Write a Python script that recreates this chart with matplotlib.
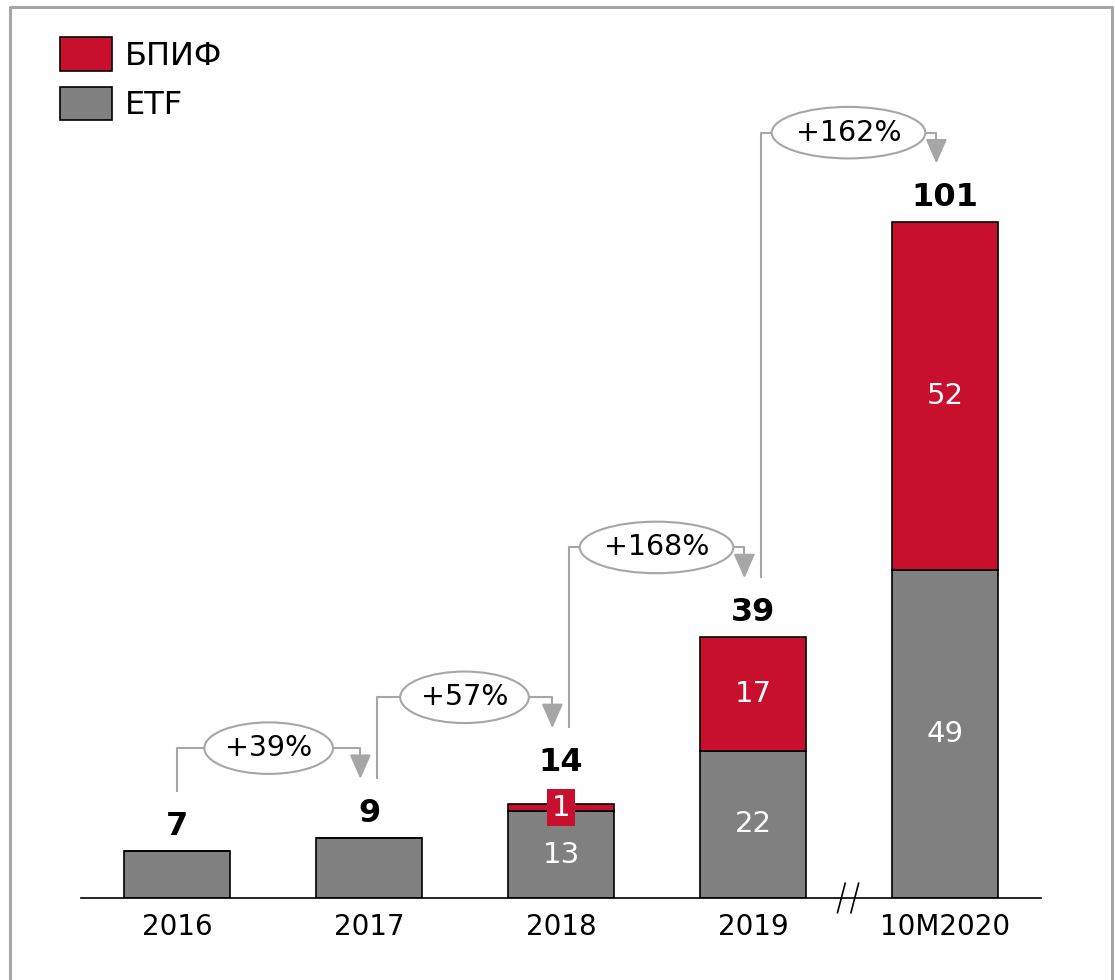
import numpy as np
import matplotlib
matplotlib.use("Agg")
from matplotlib import pyplot as plt
from matplotlib.patches import Ellipse, Patch
from matplotlib.lines import Line2D

# Chart data
years = ["2016", "2017", "2018", "2019", "10M2020"]
etf = [7, 9, 13, 22, 49]
bpif = [0, 0, 1, 17, 52]
totals = [7, 9, 14, 39, 101]
growth = ["+39%", "+57%", "+168%", "+162%"]

RED = "#c8102e"
GREY = "#808080"
LINE = "#a6a6a6"

plt.rcParams["font.family"] = ["DejaVu Sans"]

W, H = 1115, 980
fig = plt.figure(figsize=[W / 100.0, H / 100.0], dpi=100)
fig.patch.set_facecolor("white")

# axes placed in pixel terms: baseline at y=898, bar pitch 192 px
ymax = 130
ax = fig.add_axes([81.0 / W, 82.0 / H, 960.0 / W, ymax * 6.69 / H])
ax.set_xlim(-0.5, 4.5)
ax.set_ylim(0, ymax)
for s in ["top", "left", "right"]:
    ax.spines[s].set_visible(False)
ax.spines["bottom"].set_linewidth(1.2)
ax.set_yticks([])

x = np.arange(len(years))
bw = 0.55
ax.bar(x, etf, bw, color=GREY, edgecolor="black", linewidth=1.2, zorder=2)
ax.bar(x, bpif, bw, bottom=etf, color=RED, edgecolor="black", linewidth=1.2, zorder=2)

ax.set_xticks(x)
ax.set_xticklabels(years, fontsize=20)
ax.tick_params(axis="x", length=0, pad=11)

# segment labels
for i in range(len(years)):
    if etf[i] > 0 and bpif[i] > 0:
        ax.text(x[i], etf[i] / 2.0, str(etf[i]), ha="center", va="center",
                color="white", fontsize=21, zorder=4)
    if bpif[i] >= 3:
        ax.text(x[i], etf[i] + bpif[i] / 2.0, str(bpif[i]), ha="center", va="center",
                color="white", fontsize=21, zorder=4)
    elif bpif[i] > 0:
        ax.text(x[i], etf[i] + bpif[i] / 2.0, str(bpif[i]), ha="center", va="center",
                color="white", fontsize=21, zorder=4,
                bbox=dict(boxstyle="square,pad=0.15", fc=RED, ec="none"))

# totals
label_y = []
for i in range(len(years)):
    off = 3.7
    if 0 < bpif[i] < 3:
        off = 6.3
    label_y.append(totals[i] + off)
    ax.text(x[i], label_y[i], str(totals[i]), ha="center", va="center",
            fontsize=23, fontweight="bold", zorder=4)

# growth connectors
tips = [ly + 5.1 for ly in label_y]
for i in range(len(growth)):
    x0 = x[i] + 0.04 if i > 0 else x[i]
    x1 = x[i + 1] - 0.045
    level = tips[i + 1] + 4.6
    ax.plot([x0, x0, x1, x1], [tips[i], level, level, level - 1.5], color=LINE, lw=1.5,
            clip_on=False, zorder=3, solid_capstyle="butt")
    ax.annotate("", xy=(x1, tips[i + 1]), xytext=(x1, level - 1.5),
                arrowprops=dict(arrowstyle="-|>,head_length=0.75,head_width=0.33",
                                color=LINE, lw=1.5, shrinkA=0, shrinkB=0,
                                mutation_scale=20),
                annotation_clip=False, zorder=3)
    xm = (x0 + x1) / 2.0
    ew = 0.13 * len(growth[i]) + 0.15
    ax.add_patch(Ellipse((xm, level), ew, 7.7, fc="white", ec=LINE, lw=1.5,
                         clip_on=False, zorder=4))
    ax.text(xm, level, growth[i], ha="center", va="center", fontsize=20.5, zorder=5)

# axis break marks
for dx in [-0.04, 0.03]:
    ax.plot([3.5 + dx - 0.02, 3.5 + dx + 0.02], [-2.2, 2.2], color="black", lw=1.2,
            clip_on=False, zorder=5)

# legend
handles = [Patch(facecolor=RED, edgecolor="black", linewidth=1.2, label="БПИФ"),
           Patch(facecolor=GREY, edgecolor="black", linewidth=1.2, label="ETF")]
fig.legend(handles=handles, loc="upper left", bbox_to_anchor=(60.0 / W, 1 - 37.0 / H),
           bbox_transform=fig.transFigure, frameon=False, fontsize=23,
           handlelength=1.63, handleheight=1.25, labelspacing=0.47,
           handletextpad=0.4, borderpad=0, borderaxespad=0)

# outer frame (open at the bottom)
fig.add_artist(Line2D([10.0 / W, 10.0 / W, 1112.0 / W, 1112.0 / W],
                      [0, 1 - 7.0 / H, 1 - 7.0 / H, 0],
                      color=LINE, lw=2.2, transform=fig.transFigure))

fig.savefig("out.png", dpi=100)
